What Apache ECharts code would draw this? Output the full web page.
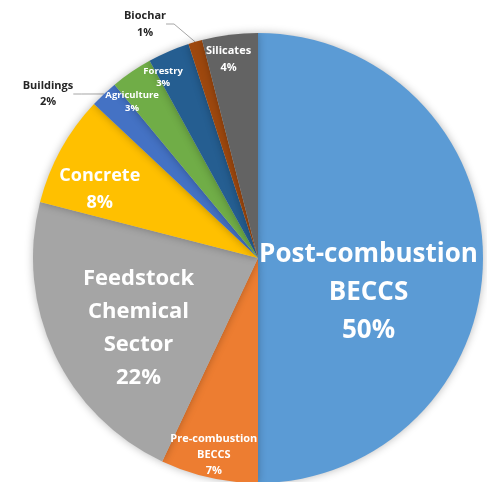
<!DOCTYPE html>
<html>
<head>
<meta charset="utf-8">
<script src="https://cdn.jsdelivr.net/npm/echarts@6/dist/echarts.min.js"></script>
<style>
  html, body { margin: 0; padding: 0; background: #ffffff; }
  #chart { width: 487px; height: 482px; }
</style>
</head>
<body>
<div id="chart"></div>
<script>
// Shares of carbon removal by sector (percent)
const sectors = [
  'Post-combustion BECCS',
  'Pre-combustion BECCS',
  'Feedstock Chemical Sector',
  'Concrete',
  'Buildings',
  'Agriculture',
  'Forestry',
  'Biochar',
  'Silicates'
];
const shares = [50, 7, 22, 8, 2, 3, 3, 1, 4];
const sliceColors = ['#5B9BD5', '#ED7D31', '#A5A5A5', '#FFC000', '#4472C4', '#70AD47', '#255E91', '#9E480E', '#636363'];

// Label typography per slice
const labelFontSize = [26, 11, 22, 18, 11, 9.5, 9.5, 11, 11];
const labelLineHeight = [38, 16, 33, 27, 16, 13, 12, 17, 17];
const outsideLabelled = ['Buildings', 'Biochar'];

// Nudges (px) for labels sitting inside their slice
const insideNudge = {
  'Post-combustion BECCS': [-5, 35],
  'Pre-combustion BECCS': [-19, 84],
  'Feedstock Chemical Sector': [-15, 21],
  'Concrete': [-57, -13],
  'Agriculture': [-61, -61],
  'Forestry': [-49, -75],
  'Silicates': [-15, -84]
};
// Text centres for the callout labels outside the pie
const calloutAt = {
  'Buildings': [48, 94],
  'Biochar': [145, 24]
};

const FONT = '"Open Sans", "Noto Sans", sans-serif';

const pieData = sectors.map((name, i) => {
  const outside = outsideLabelled.includes(name);
  return {
    name: name,
    value: shares[i],
    itemStyle: { color: sliceColors[i] },
    label: {
      show: true,
      position: outside ? 'outside' : 'inside',
      color: outside ? '#262626' : '#ffffff',
      fontSize: labelFontSize[i],
      lineHeight: labelLineHeight[i],
      fontWeight: 'bold',
      fontFamily: FONT,
      align: 'center'
    },
    labelLine: {
      show: outside,
      length: 10,
      length2: 8,
      lineStyle: { color: '#A6A6A6', width: 1 }
    }
  };
});

const chart = echarts.init(document.getElementById('chart'), null, { renderer: 'canvas' });

chart.setOption({
  animation: false,
  backgroundColor: '#ffffff',
  series: [{
    type: 'pie',
    center: [258, 258],
    radius: 225,
    startAngle: 90,
    clockwise: true,
    avoidLabelOverlap: false,
    emphasis: { disabled: true },
    itemStyle: {
      shadowBlur: 8,
      shadowColor: 'rgba(0,0,0,0.28)'
    },
    label: {
      formatter: (p) => p.name.split(' ').join('\n') + '\n' + p.value + '%'
    },
    labelLayout: (params) => {
      const name = sectors[params.dataIndex];
      if (calloutAt[name]) {
        const [x, y] = calloutAt[name];
        return { x: x, y: y, align: 'center', verticalAlign: 'middle' };
      }
      const n = insideNudge[name] || [0, 0];
      return { dx: n[0], dy: n[1] };
    },
    data: pieData
  }]
});
</script>
</body>
</html>
